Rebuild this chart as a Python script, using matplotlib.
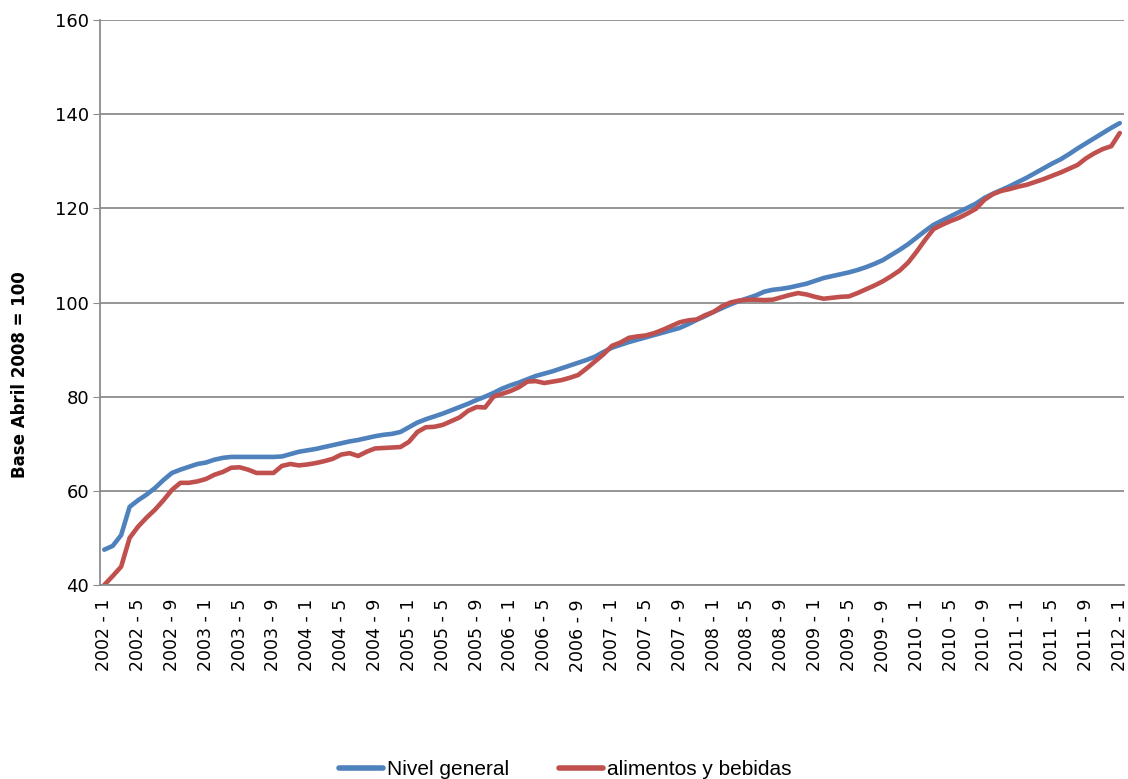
import matplotlib
matplotlib.use("Agg")
import matplotlib.pyplot as plt
import numpy as np

months = [f"{y} - {m}" for y in range(2002, 2012) for m in range(1, 13)] + ["2012 - 1"]

nivel_general = [
    47.5, 48.3, 50.6, 56.6, 58.0, 59.2, 60.6, 62.3, 63.8, 64.5, 65.1, 65.7,
    66.0, 66.6, 67.0, 67.2, 67.2, 67.2, 67.2, 67.2, 67.2, 67.3, 67.8, 68.3,
    68.6, 68.9, 69.3, 69.7, 70.1, 70.5, 70.8, 71.2, 71.6, 71.9, 72.1, 72.5,
    73.5, 74.5, 75.2, 75.8, 76.4, 77.1, 77.8, 78.5, 79.3, 80.0, 80.8, 81.7,
    82.4, 83.0, 83.7, 84.4, 84.9, 85.4, 86.0, 86.6, 87.2, 87.8, 88.5, 89.5,
    90.4, 91.0, 91.6, 92.1, 92.6, 93.1, 93.6, 94.1, 94.6, 95.4, 96.3, 97.1,
    98.0, 98.8, 99.6, 100.3, 100.9, 101.5, 102.3, 102.7, 102.9, 103.2, 103.6, 104.0,
    104.6, 105.2, 105.6, 106.0, 106.4, 106.9, 107.5, 108.2, 109.0, 110.1, 111.2, 112.4,
    113.8, 115.2, 116.5, 117.4, 118.3, 119.2, 120.1, 121.0, 122.2, 123.1, 123.9, 124.7,
    125.6, 126.5, 127.5, 128.5, 129.5, 130.4, 131.5, 132.7, 133.8, 134.9, 136.0, 137.1,
    138.1,
]

alimentos_bebidas = [
    40.0, 41.9, 43.9, 50.0, 52.4, 54.3, 56.0, 58.0, 60.2, 61.7, 61.7, 62.0,
    62.5, 63.4, 64.0, 64.9, 65.0, 64.5, 63.8, 63.8, 63.8, 65.3, 65.7, 65.4,
    65.6, 65.9, 66.3, 66.8, 67.7, 68.0, 67.4, 68.3, 69.0, 69.1, 69.2, 69.3,
    70.4, 72.5, 73.5, 73.6, 74.0, 74.8, 75.6, 77.0, 77.8, 77.7, 80.0, 80.6,
    81.2, 82.0, 83.2, 83.3, 82.9, 83.2, 83.5, 84.0, 84.6, 86.0, 87.5, 89.0,
    90.8, 91.5, 92.5, 92.8, 93.0, 93.5, 94.2, 95.0, 95.8, 96.2, 96.4, 97.3,
    98.0, 99.2, 100.0, 100.4, 100.6, 100.6, 100.5, 100.6, 101.1, 101.6, 102.0, 101.7,
    101.2, 100.8, 101.0, 101.2, 101.3, 102.0, 102.8, 103.6, 104.5, 105.6, 106.8, 108.5,
    110.8, 113.3, 115.6, 116.5, 117.3, 118.0, 118.9, 119.9, 121.8, 123.0, 123.7, 124.1,
    124.6, 125.0, 125.6, 126.2, 126.9, 127.6, 128.4, 129.2, 130.6, 131.7, 132.6, 133.2,
    136.0,
]

series_names = ["Nivel general", "alimentos y bebidas"]
colors = ["#4F81BD", "#C0504D"]

fig = plt.figure(figsize=(11.28, 7.79), dpi=100)
ax = fig.add_axes([100 / 1128, 1 - 585 / 779, 1024 / 1128, 565 / 779])

x = np.arange(len(months))
ax.plot(x, nivel_general, color=colors[0], lw=3.3, label=series_names[0], solid_capstyle="round")
ax.plot(x, alimentos_bebidas, color=colors[1], lw=3.3, label=series_names[1], solid_capstyle="round")

ax.set_xlim(-0.5, len(months) - 0.5)
ax.set_ylim(40, 160)
ax.set_yticks(np.arange(40, 161, 20))
ax.yaxis.grid(True, color="#8c8c8c", lw=1.3)
ax.set_axisbelow(True)

tick_idx = x[::4]
ax.set_xticks(tick_idx)
ax.set_xticklabels([months[i] for i in tick_idx], rotation=90, fontsize=12.5,
                   family="DejaVu Sans")
ax.tick_params(axis="x", length=0, pad=10)
ax.tick_params(axis="y", length=5, color="#8c8c8c", labelsize=13, pad=3)

for s in ["top", "right"]:
    ax.spines[s].set_visible(False)
for s in ["left", "bottom"]:
    ax.spines[s].set_color("#8c8c8c")
    ax.spines[s].set_linewidth(1.3)

ax.set_ylabel("Base Abril 2008 = 100", fontsize=12, fontweight="bold")
ax.yaxis.set_label_coords(-0.069, 0.372)

leg = fig.legend(loc="center", bbox_to_anchor=(0.501, 0.012), ncol=2, frameon=False,
                 handlelength=2.1, columnspacing=2.4, handletextpad=0.2,
                 prop={"family": ["Liberation Sans Narrow", "Liberation Sans"], "size": 15})
for line in leg.get_lines():
    line.set_linewidth(4)

fig.savefig("out.png", dpi=100)
